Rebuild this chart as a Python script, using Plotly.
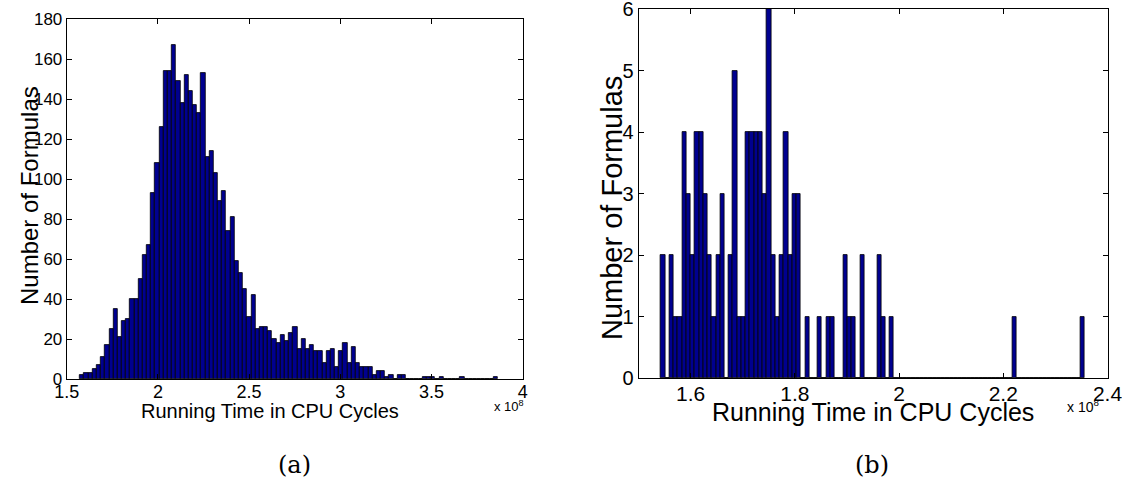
import plotly.graph_objects as go

W, H = 1122, 487

# ---------------- data (running time in units of 1e8 CPU cycles) ----------------
# Panel (a): 100-bin histogram
a_counts = [2, 3, 3, 5, 7, 11, 17, 25, 35, 21,
            29, 30, 40, 40, 50, 62, 67, 93, 108, 126,
            154, 154, 167, 149, 138, 152, 144, 137, 133, 153,
            111, 114, 103, 89, 94, 74, 81, 59, 53, 45,
            31, 42, 25, 26, 26, 24, 20, 18, 22, 19,
            23, 26, 15, 20, 15, 17, 14, 14, 8, 14,
            15, 6, 14, 18, 8, 16, 8, 6, 6, 6,
            2, 4, 4, 1, 2, 0, 2, 2, 0, 0,
            0, 0, 1, 1, 1, 0, 1, 0, 0, 0,
            0, 1, 0, 0, 0, 0, 0, 0, 0, 1]
a_bin_start = 1.5729
a_bin_width = 0.02290

# Panel (b): 100-bin histogram
b_counts = [2, 0, 2, 1, 1, 4, 3, 2, 4, 4,
            3, 2, 1, 2, 3, 0, 2, 5, 1, 1,
            4, 4, 4, 4, 3, 6, 2, 1, 2, 4,
            2, 3, 3, 0, 1, 0, 0, 1, 0, 1,
            1, 0, 0, 2, 1, 1, 0, 2, 0, 0,
            0, 2, 1, 0, 1, 0, 0, 0, 0, 0,
            0, 0, 0, 0, 0, 0, 0, 0, 0, 0,
            0, 0, 0, 0, 0, 0, 0, 0, 0, 0,
            0, 0, 0, 1, 0, 0, 0, 0, 0, 0,
            0, 0, 0, 0, 0, 0, 0, 0, 0, 1]
b_bin_start = 1.5431
b_bin_width = 0.00813

a_xticks = [1.5, 2, 2.5, 3, 3.5, 4]
a_xticklabels = ["1.5", "2", "2.5", "3", "3.5", "4"]
a_yticks = [0, 20, 40, 60, 80, 100, 120, 140, 160, 180]
b_xticks = [1.6, 1.8, 2.0, 2.2, 2.4]
b_xticklabels = ["1.6", "1.8", "2", "2.2", "2.4"]
b_yticks = [0, 1, 2, 3, 4, 5, 6]

x_label = "Running Time in CPU Cycles"
y_label = "Number of Formulas"
scale_label = "x 10<sup>8</sup>"
panel_labels = ["(a)", "(b)"]

# ---------------- layout geometry (pixels) ----------------
A_BOX = (66.7, 522.7, 19.0, 379.3)   # left, right, top, bottom
B_BOX = (638.5, 1107.5, 9.0, 378.3)

def xdom(b):
    return [b[0] / W, b[1] / W]

def ydom(b):
    return [1 - b[3] / H, 1 - b[2] / H]

def px(x):
    return x / W

def py(y):
    return 1 - y / H

BAR_FILL = "rgb(0,0,143)"
SANS = "Liberation Sans, Arial, Helvetica, sans-serif"
SERIF = "DejaVu Serif, Liberation Serif, serif"

fig = go.Figure()

a_centers = [a_bin_start + (i + 0.5) * a_bin_width for i in range(len(a_counts))]
b_centers = [b_bin_start + (i + 0.5) * b_bin_width for i in range(len(b_counts))]

fig.add_trace(go.Bar(x=a_centers, y=a_counts, width=a_bin_width,
                     marker=dict(color=BAR_FILL, line=dict(color="black", width=0.8)),
                     xaxis="x", yaxis="y", showlegend=False, hoverinfo="x+y"))
fig.add_trace(go.Bar(x=b_centers, y=b_counts, width=b_bin_width,
                     marker=dict(color=BAR_FILL, line=dict(color="black", width=0.8)),
                     xaxis="x2", yaxis="y2", showlegend=False, hoverinfo="x+y"))

axis_common = dict(showline=True, linecolor="black", linewidth=1, mirror="ticks",
                   ticks="inside", ticklen=5, tickcolor="black", tickwidth=1,
                   showgrid=False, zeroline=False, fixedrange=True, automargin=False,
                   ticklabeloverflow="allow")

fig.update_layout(
    width=W, height=H,
    margin=dict(l=0, r=0, t=0, b=0, pad=0, autoexpand=False),
    paper_bgcolor="white", plot_bgcolor="white",
    bargap=0,
    xaxis=dict(domain=xdom(A_BOX), anchor="y", range=[1.5, 4],
               tickvals=a_xticks, ticktext=a_xticklabels, ticklabelstandoff=-4,
               tickfont=dict(family=SANS, size=18, color="black"), **axis_common),
    yaxis=dict(domain=ydom(A_BOX), anchor="x", range=[0, 180],
               tickvals=a_yticks,
               tickfont=dict(family=SANS, size=17, color="black"), **axis_common),
    xaxis2=dict(domain=xdom(B_BOX), anchor="y2", range=[1.5, 2.4],
                tickvals=b_xticks, ticktext=b_xticklabels, ticklabelstandoff=-4,
                tickfont=dict(family=SANS, size=21, color="black"), **axis_common),
    yaxis2=dict(domain=ydom(B_BOX), anchor="x2", range=[0, 6],
                tickvals=b_yticks,
                tickfont=dict(family=SANS, size=20, color="black"), **axis_common),
)

ann = []
# axis titles
ann.append(dict(x=px(270), y=py(411), text=x_label, font=dict(family=SANS, size=20, color="black")))
ann.append(dict(x=px(30), y=py(196), text=y_label, textangle=-90, font=dict(family=SANS, size=24, color="black")))
ann.append(dict(x=px(873), y=py(412), text=x_label, font=dict(family=SANS, size=25, color="black")))
ann.append(dict(x=px(612), y=py(208), text=y_label, textangle=-90, font=dict(family=SANS, size=29, color="black")))
# scale factors
ann.append(dict(x=px(509), y=py(406), text=scale_label, font=dict(family=SANS, size=13, color="black")))
ann.append(dict(x=px(1083), y=py(406), text=scale_label, font=dict(family=SANS, size=14, color="black")))
# panel labels
ann.append(dict(x=px(294), y=py(465), text=panel_labels[0], font=dict(family=SERIF, size=24, color="black")))
ann.append(dict(x=px(872), y=py(465), text=panel_labels[1], font=dict(family=SERIF, size=24, color="black")))

for a in ann:
    a.update(xref="paper", yref="paper", showarrow=False, xanchor="center", yanchor="middle")
fig.update_layout(annotations=ann)

# place the figure at the page origin so pixel positions match the reference
fig.write_html("out.html", config={"displayModeBar": False},
               post_script="document.body.style.margin='0';")
